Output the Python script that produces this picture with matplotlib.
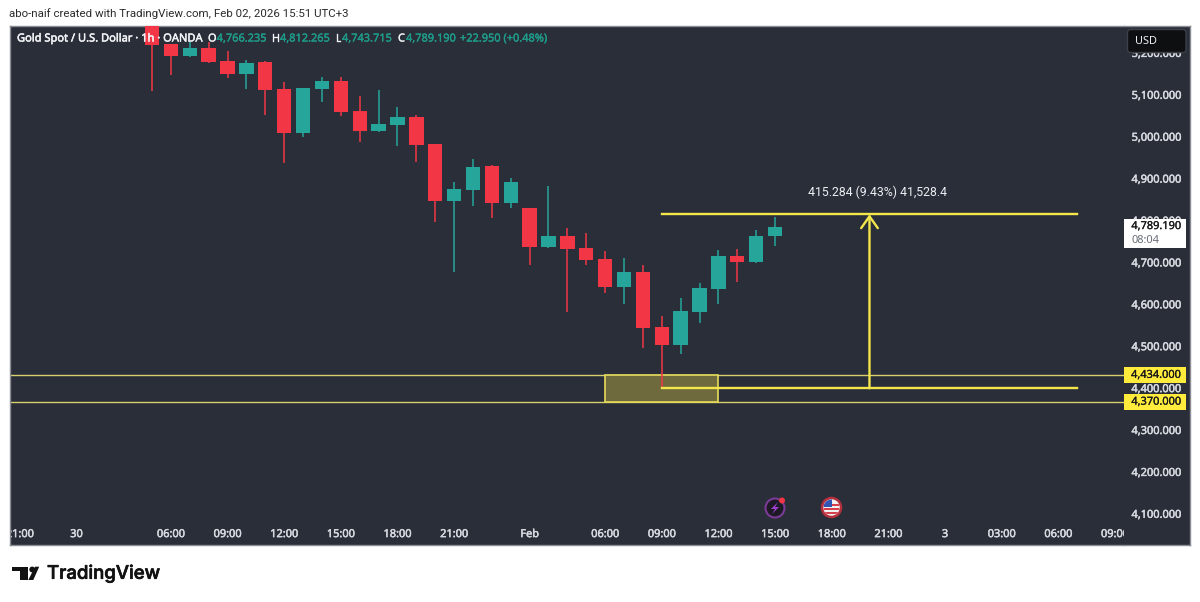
import matplotlib
matplotlib.use('Agg')
import matplotlib.pyplot as plt
import matplotlib.patheffects as pe
from matplotlib.patches import Rectangle, Circle, FancyBboxPatch, Polygon
from matplotlib.transforms import Affine2D, ScaledTranslation, blended_transform_factory

# hourly candles
opens = [5290, 5225.5, 5196.2, 5216, 5185, 5153.2, 5182.6, 5118.1, 5013.1, 5117.4, 5135.8, 5064.9,
         5017.2, 5030.8, 5051.3, 4986.2, 4850.1, 4876.4, 4934.4, 4845.4, 4833.4, 4740.3, 4766.6, 4738,
         4711, 4645.6, 4680, 4550.1, 4505.7, 4585.9, 4639.4, 4719.6, 4704.5, 4766.235]
closes = [5223.2, 5196.2, 5216, 5181.9, 5153.2, 5180.2, 5115, 5013.1, 5119.8, 5135.8, 5062.5, 5017.2,
          5033.2, 5050.6, 4983.8, 4850.1, 4878.8, 4932, 4845.4, 4896.2, 4740.3, 4766.6, 4735.6, 4708.6,
          4645.6, 4680, 4547.7, 4505.7, 4588.3, 4641.8, 4719.6, 4704.5, 4766.6, 4789.19]
highs = [5295, 5226, 5230, 5230, 5208.8, 5186.6, 5184, 5134.1, 5121, 5145.3, 5146.8, 5100.7,
         5114.3, 5075.2, 5055.4, 4987, 4894.8, 4950.4, 4935.5, 4904.3, 4834, 4885.9, 4785, 4773,
         4731.5, 4713.4, 4697.4, 4575.7, 4619.3, 4653.7, 4733.2, 4736.3, 4780.9, 4812.265]
lows = [5113.4, 5150.8, 5193.8, 5179.5, 5143.7, 5117.4, 5055.4, 4940.8, 5002.9, 5087.1, 5053.7, 4991.6,
        5016, 4981.4, 4943.2, 4800.7, 4680, 4838.2, 4808.8, 4832.7, 4697.4, 4739, 4585.9, 4697.4,
        4629.8, 4604.3, 4498.6, 4403.1, 4485, 4558.2, 4604.3, 4656.8, 4703, 4743.715]

time_ticks = [-7, -4, 1, 4, 7, 10, 13, 16, 20, 24, 27, 30, 33, 36, 39, 42, 45, 48, 51]
time_labels = ['21:00', '30', '06:00', '09:00', '12:00', '15:00', '18:00', '21:00', 'Feb', '06:00',
               '09:00', '12:00', '15:00', '18:00', '21:00', '3', '03:00', '06:00', '09:00']
price_ticks = [4100, 4200, 4300, 4400, 4500, 4600, 4700, 4800, 4900, 5000, 5100, 5200]

zone_top = 4434
zone_bottom = 4370
zone_start = 24
zone_end = 30
measure_low = 4403.1
measure_high = 4818.4
measure_start = 27
measure_end = 49
measure_x = 38
last_price = 4789.19

BG = '#2a2e39'
RED = '#f23645'
GREEN = '#26a69a'
YELLOW = '#f2e64a'
TXT = '#d8dae0'


def heavy(color, w=0.35):
    return [pe.withStroke(linewidth=w, foreground=color)]


plt.rcParams['font.family'] = ['Noto Sans', 'DejaVu Sans']

fig = plt.figure(figsize=(12, 6.02), dpi=100, facecolor='white')
# picture pixels, y going down, for the page furniture
pix = Affine2D().scale(1 / 1200, -1 / 602).translate(0, 1) + fig.transFigure

ax = fig.add_axes([10 / 1200, 1 - 545 / 602, 1114 / 1200, 519 / 602], facecolor=BG)
ax2 = fig.add_axes([1124 / 1200, 1 - 545 / 602, 66 / 1200, 519 / 602], facecolor=BG, zorder=3)
ax.set_xlim(-7.52, 51.48)
for a in (ax, ax2):
    a.set_ylim(4029.1, 5267.8)

# candles
colors = [GREEN if c >= o else RED for o, c in zip(opens, closes)]
xs = list(range(len(opens)))
ax.vlines(xs, lows, highs, colors=colors, lw=1.1, zorder=3)
ax.bar(xs, [abs(c - o) for o, c in zip(opens, closes)], bottom=[min(o, c) for o, c in zip(opens, closes)],
       width=0.76, color=colors, zorder=4)

# zone
ax.axhline(zone_top, color='#d9cf6c', lw=1, zorder=2)
ax.axhline(zone_bottom, color='#d9cf6c', lw=1, zorder=2)
ax.add_patch(Rectangle((zone_start, zone_bottom), zone_end - zone_start, zone_top - zone_bottom,
                       facecolor='#6f6a3d', edgecolor='#e6dc5a', lw=1.2, zorder=2.5))

# measure tool
ax.plot([measure_start, measure_end], [measure_high, measure_high], color=YELLOW, lw=1.7, zorder=5)
ax.plot([measure_start, measure_end], [measure_low, measure_low], color=YELLOW, lw=1.7, zorder=5)
ax.annotate('', xy=(measure_x, measure_high), xytext=(measure_x, measure_low), zorder=5,
            arrowprops=dict(arrowstyle='->,head_length=0.85,head_width=0.6', color=YELLOW, lw=1.7,
                            shrinkA=0, shrinkB=0))
ax.text(38.4, 4871.6, '415.284 (9.43%) 41,528.4', color='#eceef2', fontsize=8.8, ha='center', va='center',
        zorder=6, family=['Roboto', 'DejaVu Sans'])

# time axis
ax.set_xticks(time_ticks)
ax.set_xticklabels(time_labels)
ax.tick_params(axis='x', length=0, pad=-7.5, labelsize=7.9, labelcolor=TXT)
for lab in ax.get_xticklabels():
    lab.set_va('center')
    lab.set_clip_on(True)
    lab.set_clip_box(ax.bbox)
    lab.set_zorder(6)
    lab.set_path_effects(heavy(TXT))
    if lab.get_text() == 'Feb':
        lab.set_fontweight('bold')
ax.set_yticks([])

# price axis, labels sit a little above their level
ax2.set_xticks([])
ax2.yaxis.tick_right()
ax2.set_yticks(price_ticks)
ax2.set_yticklabels([f'{p:,.3f}' for p in price_ticks])
ax2.tick_params(axis='y', length=0, pad=-6.3, labelsize=7.9, labelcolor=TXT)
up = ScaledTranslation(0, 1.5 / 100, fig.dpi_scale_trans)
for lab in ax2.get_yticklabels():
    lab.set_ha('right')
    lab.set_transform(lab.get_transform() + up)
    lab.set_path_effects(heavy(TXT))

for a in (ax, ax2):
    for s in a.spines.values():
        s.set_color('#8b8d94')
        s.set_linewidth(1)
ax.spines['right'].set_visible(False)
ax2.spines['left'].set_visible(False)

# price labels
blend = blended_transform_factory(ax2.transAxes, ax2.transData)
for level in (zone_top, zone_bottom):
    ax2.add_patch(Rectangle((0, level - 19), 0.935, 38, facecolor='#ffeb3b', edgecolor='none', transform=blend, zorder=5))
    ax2.text(0.865, level, f'{level:,.3f}', color='#1a1a1a', fontsize=7.9, ha='right', va='center', transform=blend,
             zorder=6, path_effects=heavy('#1a1a1a', 0.2))
ax2.add_patch(Rectangle((0, 4737.9), 0.935, 69.1, facecolor='white', edgecolor='none', transform=blend, zorder=5))
ax2.text(0.865, last_price, f'{last_price:,.3f}', color='#1a1a1a', fontsize=7.9, ha='right', va='center', transform=blend,
         zorder=6, path_effects=heavy('#1a1a1a', 0.2))
ax2.text(0.115, 4756, '08:04', color='#6a6d78', fontsize=7.9, ha='left', va='center', transform=blend, zorder=6)

# USD button
fig.add_artist(FancyBboxPatch((1128.5, 30.5), 56.5, 21, boxstyle='round,pad=1,rounding_size=3', facecolor='#0e0f11',
                              edgecolor='#3c3f49', lw=1, transform=pix, zorder=10))
fig.text(1135, 41, 'USD', color='#eceef2', fontsize=7.9, va='center', transform=pix, zorder=11)

# header and legend
fig.text(9, 14, 'abo-naif created with TradingView.com, Feb 02, 2026 15:51 UTC+3', color='#2b2b2b', fontsize=8.25,
         family=['Roboto', 'DejaVu Sans'], va='center', transform=pix)
fig.text(17, 39, 'Gold Spot / U.S. Dollar · 1h · OANDA', color='#f2f3f5', fontsize=8, va='center', transform=pix,
         zorder=11, path_effects=heavy('#f2f3f5'))
legend_parts = [(208, 'O', 0), (216.7, '4,766.235', 1), (271.7, 'H', 0), (280, '4,812.265', 1), (335.7, 'L', 0),
                (342, '4,743.715', 1), (398, 'C', 0), (406, '4,789.190', 1), (460, '+22.950 (+0.48%)', 1)]
for x, s, is_val in legend_parts:
    col = '#1f9c8a' if is_val else '#f2f3f5'
    fig.text(x, 39, s, color=col, fontsize=7.9, va='center', transform=pix, zorder=11, path_effects=heavy(col, 0.25))

# event icons
def add_pix(patch, z=11):
    patch.set_transform(pix)
    patch.set_zorder(z)
    fig.add_artist(patch)

add_pix(Circle((775, 508), 9.5, facecolor='#1d1a26', edgecolor='#7a3a96', lw=1.5))
add_pix(Polygon([(778, 502), (771, 509), (775, 509), (772, 514), (779, 507), (775, 507)], closed=True,
                facecolor='#a13fd0', edgecolor='none'), 12)
add_pix(Circle((782, 500.5), 3, facecolor=RED, edgecolor='none'), 12)
add_pix(Circle((831.5, 507.5), 9.5, facecolor='#f2f2f2', edgecolor='#b5303c', lw=1.8))
flag = Circle((831.5, 507.5), 8, transform=pix)
for yy in (505, 509, 513):
    r = Rectangle((822, yy - 1), 19, 2, facecolor='#d6404c', edgecolor='none')
    add_pix(r, 12)
    r.set_clip_path(flag)
blue = Rectangle((822, 499), 10, 7.5, facecolor='#2f55b5', edgecolor='none')
add_pix(blue, 13)
blue.set_clip_path(flag)

# logo
add_pix(Polygon([(11.7, 566.7), (27.7, 566.7), (27.7, 580), (20, 580), (20, 570.8), (11.7, 570.8)], closed=True,
                facecolor='#111111', edgecolor='none'))
add_pix(Circle((32.2, 569.5), 2.9, facecolor='#111111', edgecolor='none'))
add_pix(Polygon([(35, 566.7), (39.2, 566.7), (33.3, 580), (28.3, 580)], closed=True, facecolor='#111111', edgecolor='none'))
fig.text(47, 574, 'TradingView', color='#111111', fontsize=13.4, family=['Inter', 'DejaVu Sans'], fontweight='medium',
         va='center', transform=pix, path_effects=heavy('#111111', 0.5))

fig.savefig('out.png', dpi=100)
